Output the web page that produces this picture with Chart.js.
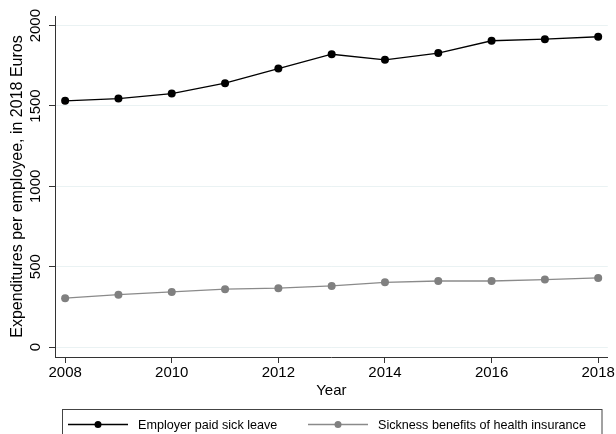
<!DOCTYPE html>
<html>
<head>
<meta charset="utf-8">
<script src="https://cdn.jsdelivr.net/npm/chart.js@4"></script>
<style>
  html, body { margin: 0; padding: 0; background: #fff; }
  #chart { display: block; }
</style>
</head>
<body>
<canvas id="chart" width="616" height="434"></canvas>
<script>
const years = [2008, 2009, 2010, 2011, 2012, 2013, 2014, 2015, 2016, 2017, 2018];
const employerPaid = [1532, 1546, 1577, 1642, 1733, 1822, 1787, 1829, 1906, 1916, 1931];
const sicknessBenefits = [304, 326, 343, 360, 366, 380, 403, 411, 411, 420, 430];
const seriesNames = ['Employer paid sick leave', 'Sickness benefits of health insurance'];
const xTicks = [2008, 2010, 2012, 2014, 2016, 2018];
const yTicks = [0, 500, 1000, 1500, 2000];

const FONT = "'Liberation Sans', Arial, sans-serif";
const AXIS = '#333';
const GRID = '#eaf2f3';

function toPoints(values){
    return values.map((v, i) => ({x: years[i], y: v}));
}

// y tick labels are drawn rotated, reading bottom to top
const yLabels = {
    id: 'yLabels',
    afterDraw(chart){
        const ctx = chart.ctx;
        const y = chart.scales.y;
        ctx.save();
        ctx.fillStyle = '#000';
        ctx.font = '15px ' + FONT;
        ctx.textAlign = 'center';
        ctx.textBaseline = 'alphabetic';
        yTicks.forEach(v => {
            ctx.save();
            ctx.translate(40, y.getPixelForValue(v));
            ctx.rotate(-Math.PI / 2);
            ctx.fillText(String(v), 0, 0);
            ctx.restore();
        });
        ctx.restore();
    }
};

// boxed legend with line + marker samples
const boxLegend = {
    id: 'boxLegend',
    afterDraw(chart){
        const ctx = chart.ctx;
        const left = 62.5, top = 409.5;
        ctx.save();
        ctx.strokeStyle = '#444';
        ctx.lineWidth = 1;
        ctx.strokeRect(left, top, 539.5, 40);
        ctx.font = '12.6px ' + FONT;
        ctx.textBaseline = 'alphabetic';
        const starts = [68, 308];
        chart.data.datasets.forEach((ds, i) => {
            const x0 = starts[i], ly = 424.5;
            ctx.strokeStyle = ds.borderColor;
            ctx.lineWidth = ds.borderWidth;
            ctx.beginPath();
            ctx.moveTo(x0, ly);
            ctx.lineTo(x0 + 60, ly);
            ctx.stroke();
            ctx.fillStyle = ds.pointBackgroundColor;
            ctx.beginPath();
            ctx.arc(x0 + 30, ly, 3.5, 0, Math.PI * 2);
            ctx.fill();
            ctx.fillStyle = '#000';
            ctx.fillText(ds.label, x0 + 70, 429);
        });
        ctx.restore();
    }
};

const config = {
    type: 'line',
    data: {
        datasets: [
            {
                label: seriesNames[0],
                data: toPoints(employerPaid),
                borderColor: '#000',
                borderWidth: 1.3,
                pointBackgroundColor: '#000',
                pointBorderColor: '#000',
                pointRadius: 4,
                pointBorderWidth: 0
            },
            {
                label: seriesNames[1],
                data: toPoints(sicknessBenefits),
                borderColor: '#8a8a8a',
                borderWidth: 1.3,
                pointBackgroundColor: '#808080',
                pointBorderColor: '#808080',
                pointRadius: 4,
                pointBorderWidth: 0
            }
        ]
    },
    options: {
        responsive: false,
        animation: false,
        layout: {
            padding: {top: 16, right: 7, left: 0, bottom: 32}
        },
        plugins: {
            legend: {display: false},
            tooltip: {enabled: false}
        },
        scales: {
            x: {
                type: 'linear',
                min: 2007.81,
                max: 2018.18,
                afterBuildTicks: s => { s.ticks = xTicks.map(v => ({value: v})); },
                afterFit: s => { s.height = 45; },
                grid: {
                    drawOnChartArea: false,
                    drawTicks: true,
                    tickLength: 6,
                    tickColor: AXIS
                },
                border: {color: AXIS, width: 1},
                ticks: {
                    color: '#000',
                    font: {family: FONT, size: 15},
                    padding: 1,
                    maxRotation: 0,
                    callback: v => String(v)
                },
                title: {
                    display: true,
                    text: 'Year',
                    color: '#000',
                    font: {family: FONT, size: 15},
                    padding: {top: 0, bottom: 2}
                }
            },
            y: {
                min: -62,
                max: 2060,
                afterBuildTicks: s => { s.ticks = yTicks.map(v => ({value: v})); },
                afterFit: s => { s.width = 55; },
                grid: {
                    color: GRID,
                    lineWidth: 1,
                    tickLength: 6,
                    tickColor: AXIS
                },
                border: {color: AXIS, width: 1},
                ticks: {display: false},
                title: {
                    display: true,
                    text: 'Expenditures per employee, in 2018 Euros',
                    color: '#000',
                    font: {family: FONT, size: 16},
                    padding: {top: 8, bottom: 0}
                }
            }
        }
    },
    plugins: [yLabels, boxLegend]
};

new Chart(document.getElementById('chart').getContext('2d'), config);
</script>
</body>
</html>
